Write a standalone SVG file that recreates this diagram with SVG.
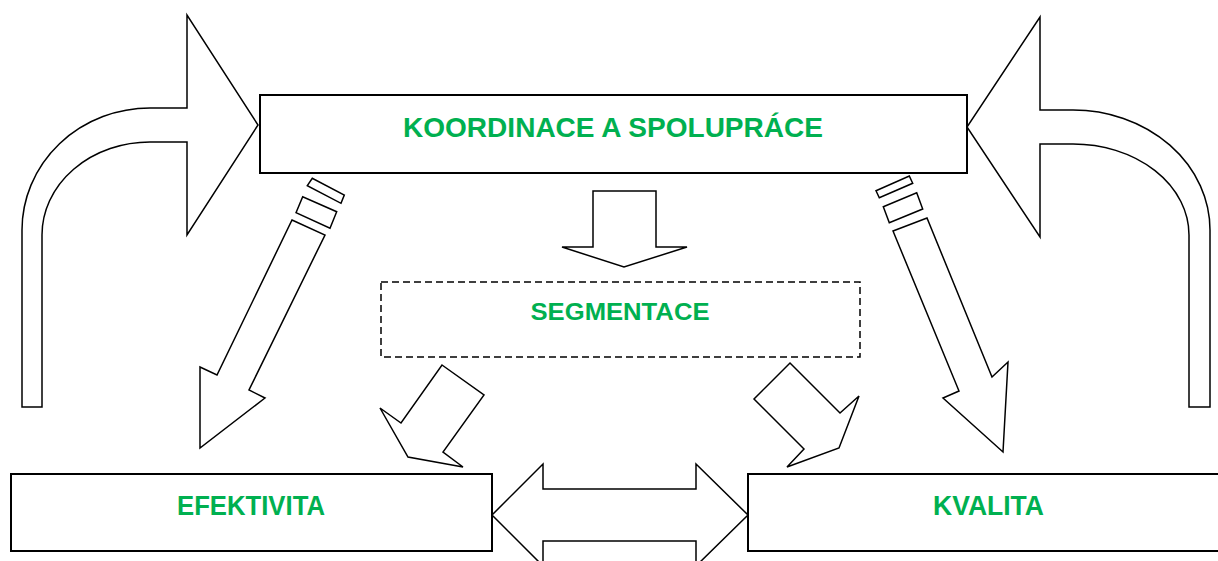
<svg xmlns="http://www.w3.org/2000/svg" width="1218" height="561" viewBox="0 0 1218 561">
<style>
.shape{fill:#fff;stroke:#000;stroke-width:1.5;stroke-linejoin:miter}
.box{fill:#fff;stroke:#000;stroke-width:2}
.dash{fill:#fff;stroke:#000;stroke-width:1.5;stroke-dasharray:7 4}
.lbl{font-family:"Liberation Sans",Arial,sans-serif;font-weight:bold;fill:#00B050;text-anchor:middle}
</style>
<rect width="1218" height="561" fill="#fff"/>
<g id="connectors">
  <path id="bent-left" class="shape" d="M22,407 L22,230 A128,122 0 0 1 150,108 L187,108 L187,15 L258,125 L187,235 L187,142 L150,142 A108,93 0 0 0 42,235 L42,407 Z"/>
  <path id="bent-right" class="shape" d="M1210,407 L1210,230 A137,120 0 0 0 1073,110 L1040,110 L1040,17 L967,127 L1040,237 L1040,144 L1073,144 A116,91 0 0 1 1189,235 L1189,407 Z"/>
  <g id="pencil-left">
    <polygon class="shape" points="307.3,185.7 312.3,178.3 344.3,195 341,203.3"/>
    <polygon class="shape" points="296,212.7 302.7,196.7 336.7,211.7 330,228.3"/>
    <polygon class="shape" points="292,220 325,235 249,390 265,398 200,448 200,367 217,375"/>
  </g>
  <g id="pencil-right">
    <polygon class="shape" points="876,190.7 909.3,176 912.7,183.3 879.3,197.7"/>
    <polygon class="shape" points="883.3,206.7 916.7,192.7 922.7,209 889.3,222.7"/>
    <polygon class="shape" points="893,231 927,218 992,377 1008,362 1003,452 943,398 959,391"/>
  </g>
  <polygon id="down-arrow" class="shape" points="593,191 656,191 656,247 687,247 624,267 562,247 593,247"/>
  <polygon id="seg-to-eff" class="shape" points="442,365 484,395 443,452 463,467 408,457 380,408 401,423"/>
  <polygon id="seg-to-kval" class="shape" points="790,363 840,413 859,396 839,448 787,467 804,449 754,399"/>
  <polygon id="double-arrow" class="shape" points="492,515 543,464 543,489 696,489 696,464 748,515 696,566 696,541 543,541 543,566"/>
</g>
<g id="node-koordinace">
  <rect class="box" x="260" y="95" width="707" height="78"/>
  <text class="lbl" x="613" y="137" font-size="28.5" textLength="420" lengthAdjust="spacingAndGlyphs">KOORDINACE A SPOLUPRÁCE</text>
</g>
<g id="node-segmentace">
  <rect class="dash" x="381" y="282" width="479" height="75"/>
  <text class="lbl" x="620" y="320" font-size="24" textLength="179" lengthAdjust="spacingAndGlyphs">SEGMENTACE</text>
</g>
<g id="node-efektivita">
  <rect class="box" x="11" y="474" width="481" height="77"/>
  <text class="lbl" x="251" y="515" font-size="28.5" textLength="148" lengthAdjust="spacingAndGlyphs">EFEKTIVITA</text>
</g>
<g id="node-kvalita">
  <rect class="box" x="748" y="474" width="475" height="77"/>
  <text class="lbl" x="988.5" y="515" font-size="28.5" textLength="111" lengthAdjust="spacingAndGlyphs">KVALITA</text>
</g>
</svg>
